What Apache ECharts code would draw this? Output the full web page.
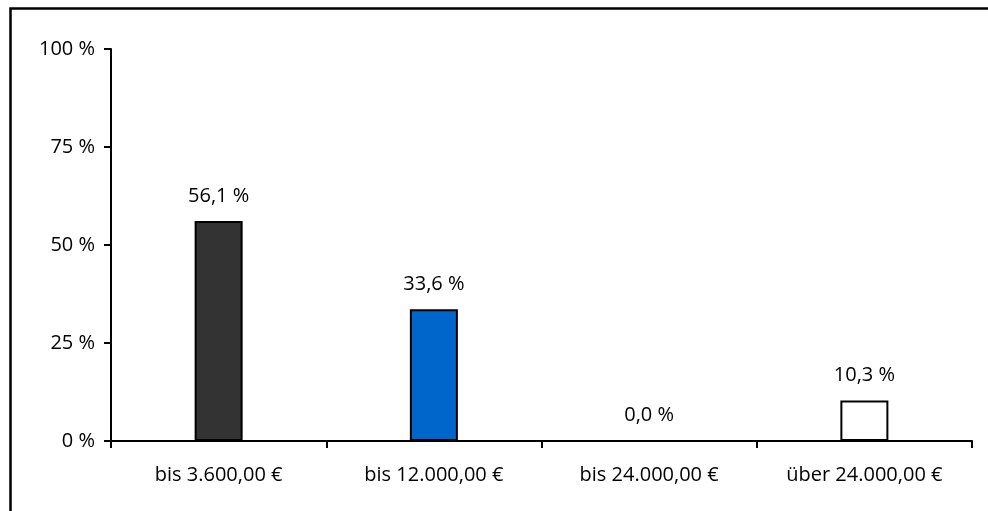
<!DOCTYPE html>
<html>
<head>
<meta charset="utf-8">
<script src="https://cdn.jsdelivr.net/npm/echarts@6/dist/echarts.min.js"></script>
<style>html,body{margin:0;padding:0;background:#fff}#c{width:988px;height:511px}</style>
</head>
<body>
<div id="c"></div>
<script>
const categories = ['bis 3.600,00 €', 'bis 12.000,00 €', 'bis 24.000,00 €', 'über 24.000,00 €'];
const values = [56.1, 33.6, 0.0, 10.3];
const barColors = ['#333333', '#0066CC', '#FFFFFF', '#FFFFFF'];
const yTicks = [0, 25, 50, 75, 100];

const FONT = 'Open Sans';
const FS = 20;
const chart = echarts.init(document.getElementById('c'), null, {renderer: 'canvas'});
chart.setOption({
  animation: false,
  backgroundColor: '#fff',
  textStyle: {fontFamily: FONT},
  graphic: [{
    type: 'rect',
    shape: {x: 10.5, y: 8.5, width: 2000, height: 2000},
    style: {fill: 'none', stroke: '#000', lineWidth: 2.5},
    silent: true
  }],
  grid: {left: 111, right: 16, top: 49, bottom: 70, containLabel: false},
  xAxis: {
    type: 'category',
    data: categories,
    axisLine: {lineStyle: {color: '#000', width: 2}},
    axisTick: {show: true, length: 7, lineStyle: {color: '#000', width: 2}},
    axisLabel: {color: '#000', fontSize: FS, fontFamily: FONT, margin: 24}
  },
  yAxis: {
    type: 'value',
    min: yTicks[0],
    max: yTicks[yTicks.length - 1],
    interval: 25,
    splitLine: {show: false},
    axisLine: {show: true, lineStyle: {color: '#000', width: 2}},
    axisTick: {show: true, length: 7, lineStyle: {color: '#000', width: 2}},
    axisLabel: {color: '#000', fontSize: FS, fontFamily: FONT, margin: 16,
      formatter: v => v + ' %'}
  },
  series: [{
    type: 'bar',
    barWidth: 48,
    data: values.map((v, i) => ({
      value: v,
      itemStyle: {color: barColors[i], borderColor: '#000', borderWidth: 2}
    })),
    label: {
      show: true,
      position: 'top',
      distance: 15,
      color: '#000',
      fontSize: FS,
      fontFamily: FONT,
      formatter: p => p.value.toFixed(1).replace('.', ',') + ' %'
    }
  }]
});
</script>
</body>
</html>
